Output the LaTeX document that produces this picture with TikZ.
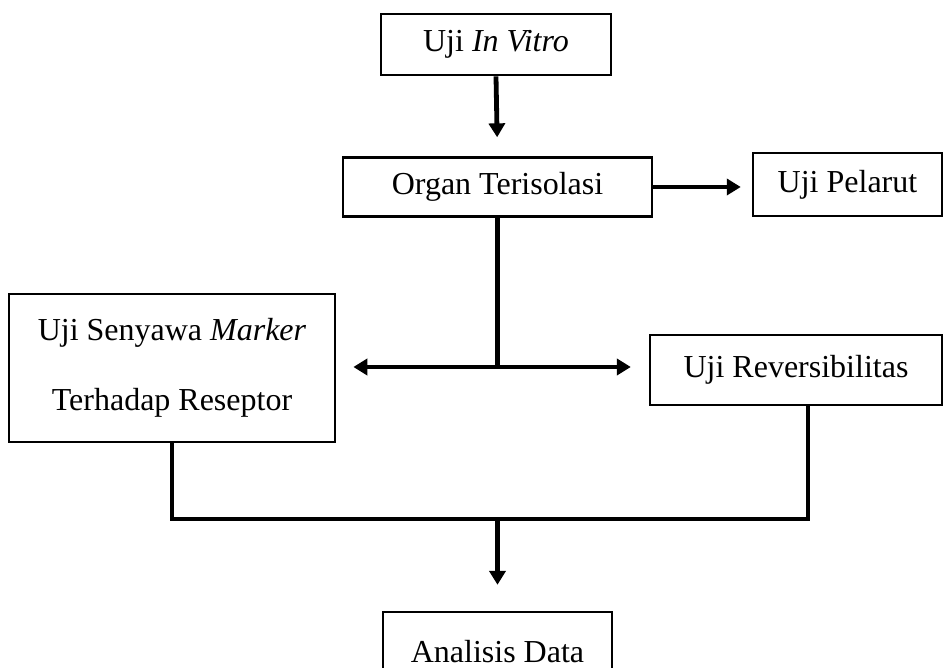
\documentclass[tikz,border=0pt]{standalone}
\usepackage{fontspec}
\setmainfont{Liberation Serif}
\usetikzlibrary{arrows.meta}

% una unidad = un pixel del dibujo
\newcommand{\pxu}{0.375pt}

\tikzset{
  caja/.style={draw, line width=1pt, font=\fontsize{12}{14.4}\selectfont,
    inner sep=0pt, align=center},
  linea/.style={line width=1.8pt},
  punta/.tip={Triangle[length=5.2pt,width=6pt]},
  flecha/.style={linea, -punta},
  dobleflecha/.style={linea, punta-punta}
}

\begin{document}
\begin{tikzpicture}[x=\pxu, y=-\pxu]
        % Marco del dibujo
        \clip (0,0) rectangle (949,668);

        % Cajas
        \node[caja, minimum width=230*\pxu, minimum height=61*\pxu] (invitro) at (496,44.5) {Uji \textit{In Vitro}};
        \node[caja, minimum width=309*\pxu, minimum height=59*\pxu] (organ) at (497.5,187) {Organ Terisolasi};
        \node[caja, minimum width=189*\pxu, minimum height=63*\pxu] (pelarut) at (847.5,184.5) {Uji Pelarut};
        \node[caja, minimum width=326*\pxu, minimum height=148*\pxu] (senyawa) at (172,368) {Uji Senyawa \textit{Marker}\\[11.8pt] Terhadap Reseptor};
        \node[caja, minimum width=292*\pxu, minimum height=70*\pxu] (reversib) at (796,370) {Uji Reversibilitas};
        \node[caja, minimum width=229*\pxu, minimum height=80*\pxu] (analisis) at (497.5,652) {Analisis Data};

        % Puntos de union
        \coordinate (cruce) at (497.5,367);
        \coordinate (base) at (497.5,519);
        \coordinate (rbase) at (808,519);

        % Flechas de arriba
        \draw[flecha, shorten >=7.1pt] (invitro.south) -- (organ.north);
        \draw[flecha, shorten >=4.1pt] (organ.east) -- (organ.east -| pelarut.west);

        % Reparto hacia los dos ensayos
        \draw[linea] (organ.south) -- (cruce);
        \draw[dobleflecha, shorten <=6.4pt, shorten >=6.7pt] (senyawa.east |- cruce) -- (cruce -| reversib.west);

        % Union de abajo y flecha final
        \draw[linea] (senyawa.south) -- (senyawa.south |- base) -- (rbase) -- (rbase |- reversib.south);
        \draw[flecha, shorten >=9.7pt] (base) -- (analisis.north);
    \end{tikzpicture}
\end{document}
